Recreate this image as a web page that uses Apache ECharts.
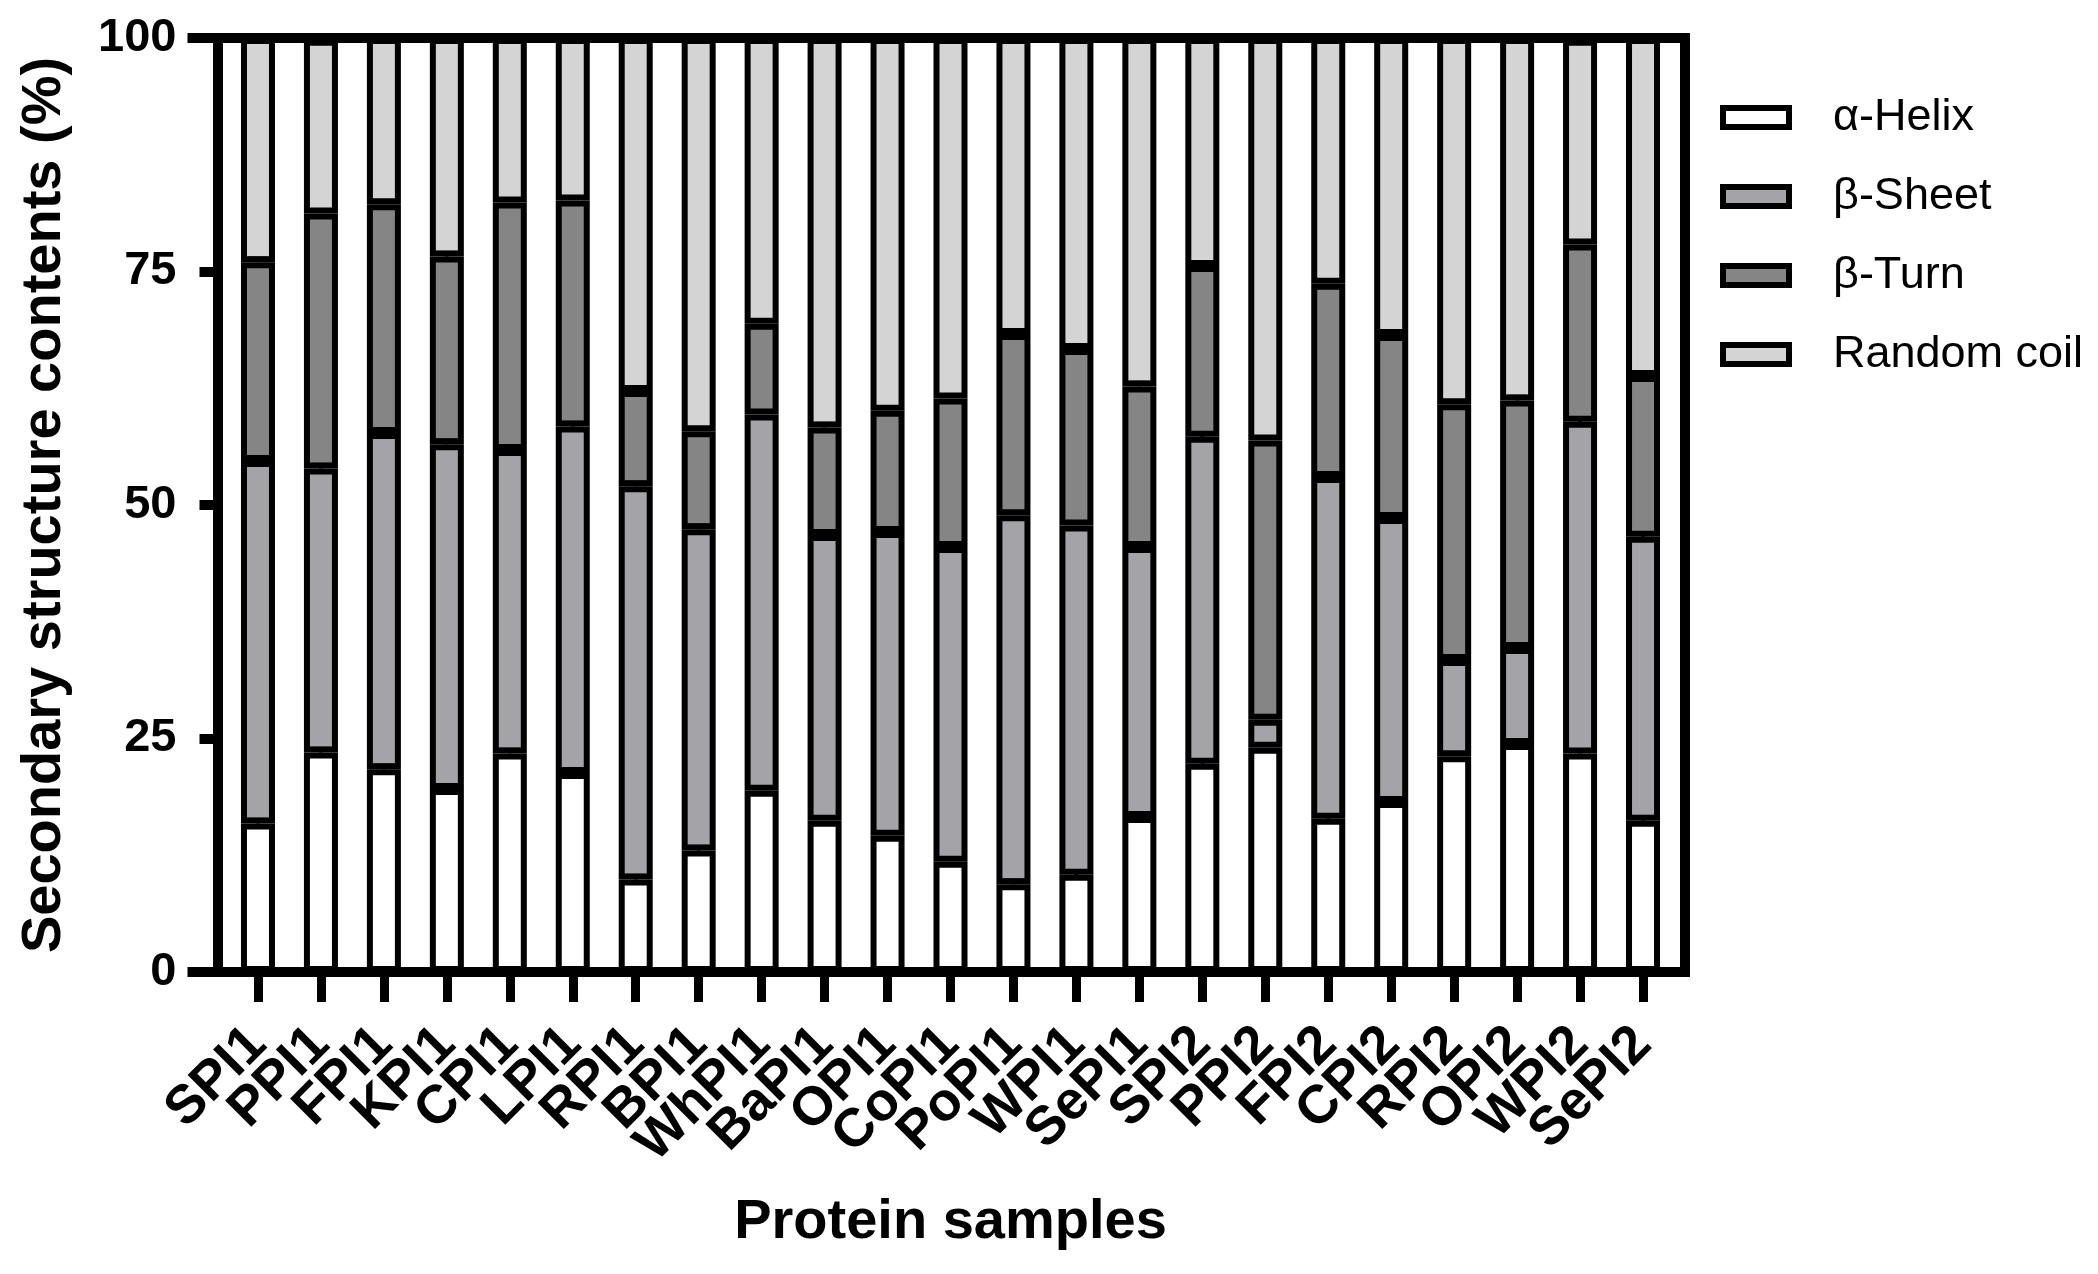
<!DOCTYPE html>
<html><head><meta charset="utf-8">
<script src="https://cdn.jsdelivr.net/npm/echarts@6/dist/echarts.min.js"></script>
<style>html,body{margin:0;padding:0;background:#fff}#c{width:2098px;height:1274px}</style>
</head><body><div id="c"></div>
<script>
const categories = ['SPI1','PPI1','FPI1','KPI1','CPI1','LPI1','RPI1','BPI1','WhPI1','BaPI1','OPI1','CoPI1','PoPI1','WPI1','SePI1','SPI2','PPI2','FPI2','CPI2','RPI2','OPI2','WPI2','SePI2'];
const alphaHelix = [15.9,23.5,21.7,19.6,23.4,21.3,9.9,13.0,19.4,16.2,14.6,11.8,9.4,10.4,16.6,22.3,24.0,16.4,18.2,23.1,24.4,23.4,16.2];
const betaSheet  = [38.8,30.4,36.0,36.9,32.5,37.1,42.1,34.4,40.3,30.6,32.5,33.7,39.5,37.4,28.9,35.0,3.0,36.6,30.4,10.3,10.3,35.5,30.4];
const betaTurn   = [21.3,27.3,24.5,20.1,26.5,24.2,10.2,10.5,9.7,11.5,13.0,15.9,19.4,18.9,17.2,18.3,29.9,20.7,19.6,27.4,26.5,19.0,17.2];
const randomCoil = [24.0,18.6,17.8,23.4,17.6,17.4,37.8,42.1,30.6,41.7,39.9,38.6,31.7,33.3,37.3,24.4,43.1,26.3,31.8,39.2,38.8,21.9,36.2];
const errHelix = [0.4,0.4,0.4,0.4,0.4,0,0.4,0.4,0,0,0,0,0.4,0.4,0.4,0.3,0,0.4,0,0,0.4,0.3,0.4];
const errSheet = [0.4,0.4,0.4,0.4,0.4,0.4,0.4,0.4,0,0.4,0,0,0,0,0.4,0.4,0,0.4,0.4,0,0.4,0.4,0.4];
const errTurn  = [0.4,0,0,0.4,0,0,0,0,0,0.4,0,0,0,0.4,0.4,0,0,0,0.4,0,0.4,0,0.4];
const yTicks = [0,25,50,75,100];
const seriesNames = ['α-Helix','β-Sheet','β-Turn','Random coil'];
const colors = ['#FFFFFF','#A4A4A8','#858585','#D4D4D4'];

const FONT = '"Liberation Sans", Arial, Helvetica, sans-serif';
const errData = [];
categories.forEach((c,i)=>{
  const t1 = alphaHelix[i], t2 = t1 + betaSheet[i], t3 = t2 + betaTurn[i];
  if (errHelix[i] > 0) errData.push([i, t1, errHelix[i]]);
  if (errSheet[i] > 0) errData.push([i, t2, errSheet[i]]);
  if (errTurn[i] > 0) errData.push([i, t3, errTurn[i]]);
});

const chart = echarts.init(document.getElementById('c'), null, {renderer:'canvas'});
const frameLine = {show:true, onZero:false, lineStyle:{color:'#000', width:10, cap:'square'}};
const barData = [alphaHelix, betaSheet, betaTurn, randomCoil];
const option = {
  animation:false,
  backgroundColor:'#fff',
  grid:[
    {left:217.5, top:38, width:1467.5, height:934},
    {left:226.5, top:38, width:1448, height:934}
  ],
  legend:{
    data:seriesNames, orient:'vertical', left:1720, top:95, padding:0,
    itemWidth:66, itemHeight:19, itemGap:34, icon:'rect', selectedMode:false,
    itemStyle:{borderColor:'#000', borderWidth:6},
    textStyle:{fontSize:45, color:'#000', fontFamily:FONT, lineHeight:45, padding:[0,0,0,39]}
  },
  xAxis:[
    {gridIndex:0, type:'value', position:'bottom', min:0, max:1, axisLine:frameLine, axisTick:{show:false}, axisLabel:{show:false}, splitLine:{show:false}},
    {gridIndex:0, type:'value', position:'top', min:0, max:1, axisLine:frameLine, axisTick:{show:false}, axisLabel:{show:false}, splitLine:{show:false}},
    {gridIndex:1, type:'category', position:'bottom', data:categories,
     axisLine:{show:false, onZero:false},
     axisTick:{show:true, alignWithLabel:true, length:30, lineStyle:{color:'#000', width:9}},
     axisLabel:{interval:0, rotate:45, fontSize:54, fontWeight:'bold', color:'#000', fontFamily:FONT, margin:64},
     name:'Protein samples', nameLocation:'middle', nameGap:223,
     nameTextStyle:{fontSize:56, fontWeight:'bold', color:'#000', fontFamily:FONT}}
  ],
  yAxis:[
    {gridIndex:0, type:'value', position:'left', min:0, max:100, interval:25,
     axisLine:frameLine,
     axisTick:{show:true, length:18, lineStyle:{color:'#000', width:10}},
     axisLabel:{fontSize:47, fontWeight:'bold', color:'#000', fontFamily:FONT, margin:41,
       formatter:v=>yTicks.includes(v)?String(v):''},
     splitLine:{show:false},
     name:'Secondary structure contents (%)', nameLocation:'middle', nameGap:145, nameRotate:90,
     nameTextStyle:{fontSize:56, fontWeight:'bold', color:'#000', fontFamily:FONT}},
    {gridIndex:0, type:'value', position:'right', min:0, max:100,
     axisLine:frameLine, axisTick:{show:false}, axisLabel:{show:false}, splitLine:{show:false}},
    {gridIndex:0, type:'value', position:'left', min:0, max:100, interval:100,
     axisLine:{show:false, onZero:false}, axisTick:{show:true, length:30, lineStyle:{color:'#000', width:10}},
     axisLabel:{show:false}, splitLine:{show:false}},
    {gridIndex:1, type:'value', min:0, max:100, show:false}
  ],
  series: seriesNames.map((n,k)=>({
    name:n, type:'bar', stack:'total', xAxisIndex:2, yAxisIndex:3,
    barWidth:34, data:barData[k],
    itemStyle:{color:colors[k], borderColor:'#000', borderWidth:6}
  })).concat([{
    name:'err', type:'custom', xAxisIndex:2, yAxisIndex:3, z:5,
    data:errData, encode:{x:0, y:1},
    renderItem:function(params, api){
      const x = api.value(0), top = api.value(1), e = api.value(2);
      const p0 = api.coord([x, top]);
      const p1 = api.coord([x, top + e]);
      const half = 10;
      return {type:'group', children:[
        {type:'line', shape:{x1:p0[0], y1:p0[1], x2:p1[0], y2:p1[1]}, style:{stroke:'#000', lineWidth:4}},
        {type:'line', shape:{x1:p1[0]-half, y1:p1[1], x2:p1[0]+half, y2:p1[1]}, style:{stroke:'#000', lineWidth:4}}
      ]};
    }
  }])
};
chart.setOption(option);
</script>
</body></html>
